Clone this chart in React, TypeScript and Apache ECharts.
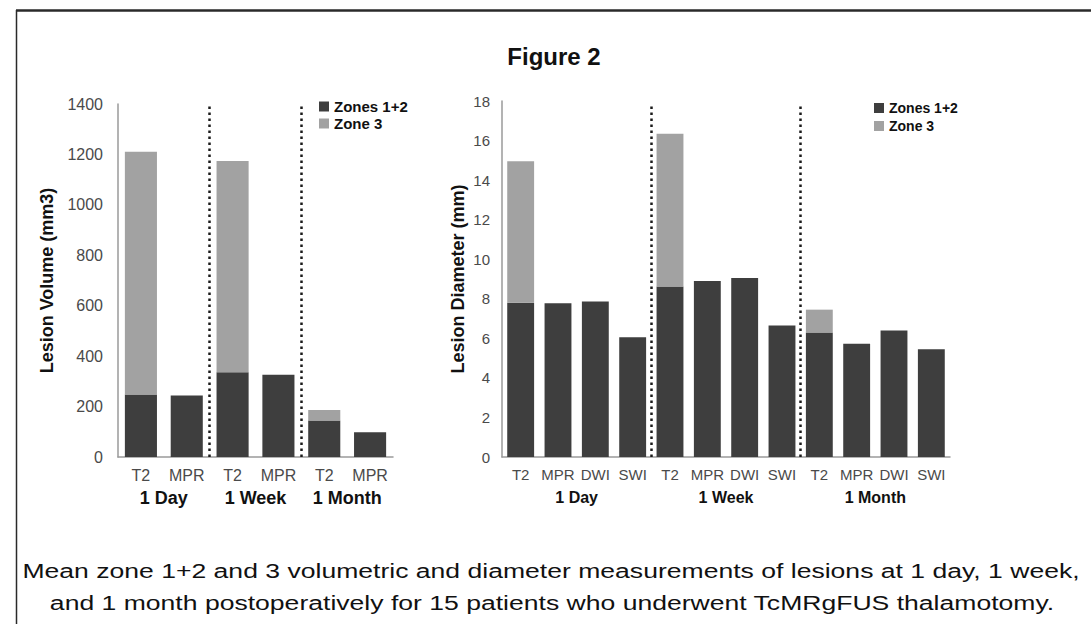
import React, { useEffect, useRef } from "react";
import * as echarts from "echarts";

const FONT = "'Liberation Sans', Arial, Helvetica, sans-serif";

// Left chart: lesion volume
const volCategories = ["T2", "MPR", "T2", "MPR", "T2", "MPR"];
const volGroups = ["1 Day", "1 Week", "1 Month"];
const volZones12 = [248, 244, 336, 326, 145, 98];
const volZone3: (number | string)[] = [963, "-", 838, "-", 41, "-"];
const volDividers = [2, 4];

// Right chart: lesion diameter
const diaCategories = ["T2", "MPR", "DWI", "SWI", "T2", "MPR", "DWI", "SWI", "T2", "MPR", "DWI", "SWI"];
const diaGroups = ["1 Day", "1 Week", "1 Month"];
const diaZones12 = [7.8, 7.78, 7.86, 6.05, 8.62, 8.9, 9.05, 6.65, 6.3, 5.72, 6.4, 5.45];
const diaZone3: (number | string)[] = [7.15, "-", "-", "-", 7.72, "-", "-", "-", 1.15, "-", "-", "-"];
const diaDividers = [4, 8];

const seriesNames = ["Zones 1+2", "Zone 3"];
const DARK = "#3e3e3e";
const LIGHT = "#a2a2a2";

const caption1 = "Mean zone 1+2 and 3 volumetric and diameter measurements of lesions at 1 day, 1 week,";
const caption2 = "and 1 month postoperatively for 15 patients who underwent TcMRgFUS thalamotomy.";

export default function App() {
  const ref = useRef<HTMLDivElement>(null);
  useEffect(() => {
    if (!ref.current) return;
    const chart = echarts.init(ref.current, undefined, { renderer: "svg" });

    const axisLineStyle = { color: "#9a9a9a", width: 1.5 };
    const dotStyle = { color: "#1a1a1a", width: 2.5, type: [2.5, 3.5] as any };

    const catAxis = (gridIndex: number, data: string[], size: number) => ({
      type: "category",
      gridIndex,
      data,
      axisLine: { show: true, lineStyle: axisLineStyle },
      axisTick: { show: false },
      axisLabel: { interval: 0, color: "#4a4a4a", fontSize: size, fontFamily: FONT, margin: 10 },
    });
    const groupAxis = (gridIndex: number, data: string[], size: number) => ({
      type: "category",
      gridIndex,
      data,
      position: "bottom",
      offset: 22,
      axisLine: { show: false },
      axisTick: { show: false },
      axisLabel: { interval: 0, color: "#111", fontSize: size, fontWeight: "bold", fontFamily: FONT, margin: 10 },
    });
    const hiddenValueAxis = (gridIndex: number, max: number) => ({
      type: "value",
      gridIndex,
      min: 0,
      max,
      show: false,
      position: "top",
    });
    const plain = (v: number) => String(v);

    const option: any = {
      animation: false,
      backgroundColor: "#ffffff",
      textStyle: { fontFamily: FONT },
      grid: [
        { left: 118, right: 698, top: 104, bottom: 167 },
        { left: 502, right: 141, top: 101, bottom: 167 },
      ],
      xAxis: [
        catAxis(0, volCategories, 16),
        groupAxis(0, volGroups, 18),
        hiddenValueAxis(0, volCategories.length),
        catAxis(1, diaCategories, 15),
        groupAxis(1, diaGroups, 16),
        hiddenValueAxis(1, diaCategories.length),
      ],
      yAxis: [
        {
          type: "value",
          gridIndex: 0,
          min: 0,
          max: 1400,
          interval: 200,
          name: "Lesion Volume (mm3)",
          nameLocation: "middle",
          nameGap: 62,
          nameTextStyle: { fontSize: 18, fontWeight: "bold", color: "#111", fontFamily: FONT },
          axisLine: { show: true, lineStyle: axisLineStyle },
          axisTick: { show: false },
          splitLine: { show: false },
          axisLabel: { color: "#4a4a4a", fontSize: 16, fontFamily: FONT, margin: 15, formatter: plain },
        },
        {
          type: "value",
          gridIndex: 1,
          min: 0,
          max: 18,
          interval: 2,
          name: "Lesion Diameter (mm)",
          nameLocation: "middle",
          nameGap: 35,
          nameTextStyle: { fontSize: 18, fontWeight: "bold", color: "#111", fontFamily: FONT },
          axisLine: { show: true, lineStyle: axisLineStyle },
          axisTick: { show: false },
          splitLine: { show: false },
          axisLabel: { color: "#4a4a4a", fontSize: 15, fontFamily: FONT, margin: 12, formatter: plain },
        },
      ],
      legend: [
        {
          data: seriesNames,
          orient: "vertical",
          left: 314,
          top: 94,
          icon: "rect",
          itemWidth: 10,
          itemHeight: 10,
          itemGap: 2,
          selectedMode: false,
          textStyle: { fontSize: 15, fontWeight: "bold", color: "#111", fontFamily: FONT },
        },
        {
          data: seriesNames,
          orient: "vertical",
          left: 869,
          top: 96,
          icon: "rect",
          itemWidth: 10,
          itemHeight: 10,
          itemGap: 4,
          selectedMode: false,
          textStyle: { fontSize: 14, fontWeight: "bold", color: "#111", fontFamily: FONT },
        },
      ],
      series: [
        {
          name: seriesNames[0],
          type: "bar",
          xAxisIndex: 0,
          yAxisIndex: 0,
          stack: "vol",
          data: volZones12,
          barCategoryGap: "30%",
          itemStyle: { color: DARK },
        },
        {
          name: seriesNames[1],
          type: "bar",
          xAxisIndex: 0,
          yAxisIndex: 0,
          stack: "vol",
          data: volZone3,
          barCategoryGap: "30%",
          itemStyle: { color: LIGHT },
        },
        {
          name: "vol-dividers",
          type: "line",
          xAxisIndex: 2,
          yAxisIndex: 0,
          data: [],
          silent: true,
          markLine: {
            silent: true,
            symbol: "none",
            label: { show: false },
            lineStyle: dotStyle,
            data: volDividers.map((d) => [{ coord: [d, 0] }, { coord: [d, 1400] }]),
          },
        },
        {
          name: seriesNames[0],
          type: "bar",
          xAxisIndex: 3,
          yAxisIndex: 1,
          stack: "dia",
          data: diaZones12,
          barCategoryGap: "28%",
          itemStyle: { color: DARK },
        },
        {
          name: seriesNames[1],
          type: "bar",
          xAxisIndex: 3,
          yAxisIndex: 1,
          stack: "dia",
          data: diaZone3,
          barCategoryGap: "28%",
          itemStyle: { color: LIGHT },
        },
        {
          name: "dia-dividers",
          type: "line",
          xAxisIndex: 5,
          yAxisIndex: 1,
          data: [],
          silent: true,
          markLine: {
            silent: true,
            symbol: "none",
            label: { show: false },
            lineStyle: dotStyle,
            data: diaDividers.map((d) => [{ coord: [d, 0] }, { coord: [d, 17.9] }]),
          },
        },
      ],
      graphic: [
        { type: "line", shape: { x1: 16, y1: 10.5, x2: 1091, y2: 10.5 }, style: { stroke: "#2a2a2a", lineWidth: 2.5 }, silent: true },
        { type: "line", shape: { x1: 16.5, y1: 10, x2: 16.5, y2: 624 }, style: { stroke: "#2a2a2a", lineWidth: 1.5 }, silent: true },
        {
          type: "text",
          x: 554,
          y: 56,
          style: { text: "Figure 2", font: `bold 24px ${FONT}`, fill: "#111", textAlign: "center", textVerticalAlign: "middle" },
          silent: true,
        },
        {
          type: "text",
          x: 551,
          y: 571,
          scaleX: 1.265,
          style: { text: caption1, font: `21px ${FONT}`, fill: "#111", textAlign: "center", textVerticalAlign: "middle" },
          silent: true,
        },
        {
          type: "text",
          x: 552,
          y: 603,
          scaleX: 1.265,
          style: { text: caption2, font: `21px ${FONT}`, fill: "#111", textAlign: "center", textVerticalAlign: "middle" },
          silent: true,
        },
      ],
    };

    chart.setOption(option);
    return () => chart.dispose();
  }, []);

  return <div ref={ref} style={{ position: "absolute", left: 0, top: 0, width: 1091, height: 624 }} />;
}
